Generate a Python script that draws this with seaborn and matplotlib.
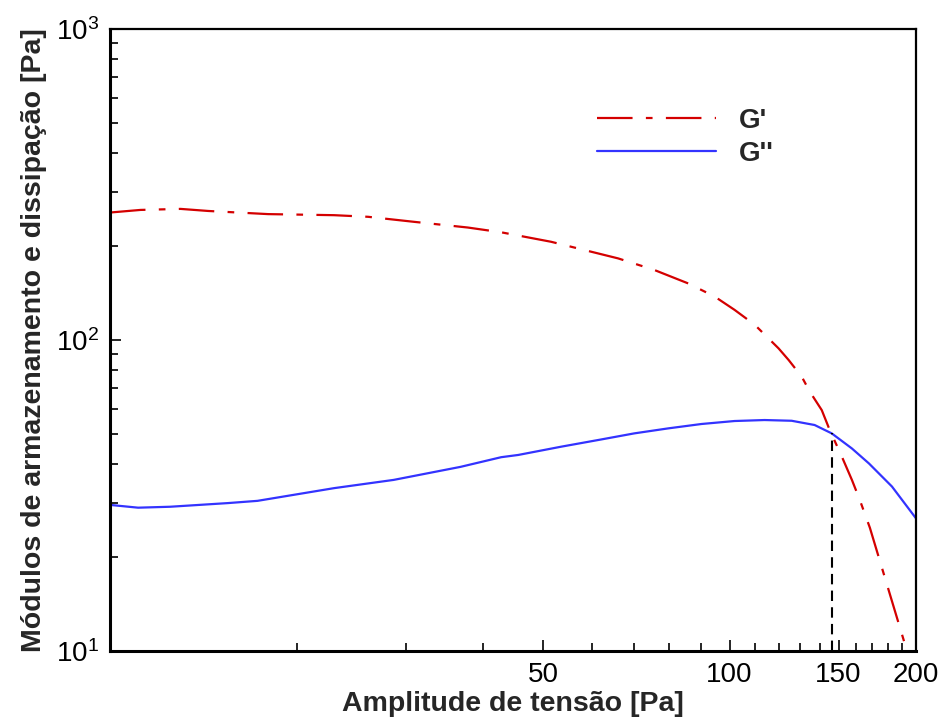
import matplotlib
matplotlib.use('Agg')
import matplotlib.pyplot as plt
import matplotlib.ticker as mticker
import pandas as pd
import seaborn as sns

# G' (storage modulus)
stress_gp = [10.0, 11.2, 13.0, 14.4, 18.0, 23.0, 26.1, 30.9, 37.8, 42.8, 51.5, 66.1,
             75.6, 85.8, 94.6, 101.9, 109.8, 120.0, 124.6, 130.8, 134.8, 140.9, 145.1,
             151.8, 157.6, 162.3, 168.5, 193.4]
g_prime = [257, 262, 264, 260, 254, 252, 249, 240, 230, 222, 207, 183,
           168, 152, 138, 125, 112, 94, 86.2, 76.2, 68.2, 59.5, 51.4,
           42.2, 35.5, 30.6, 24.9, 10.0]

# G'' (loss modulus)
stress_gpp = [10.0, 11.1, 12.5, 15.5, 17.3, 23.0, 28.7, 36.8, 42.8, 45.6, 53.5, 62.1,
              70.2, 79.7, 90.1, 101.9, 113.9, 126.0, 137.2, 146.2, 157.6, 167.9,
              182.9, 200.0]
g_dprime = [29.5, 28.9, 29.1, 29.9, 30.4, 33.4, 35.5, 39.1, 42.0, 42.7, 45.4, 47.9,
            50.1, 52.0, 53.7, 54.9, 55.3, 55.0, 53.3, 50.1, 44.8, 40.1,
            33.8, 26.7]

crossover_x = 146.2
crossover_y = 50.1

x_major = [50, 100, 150, 200]
x_minor = [20, 30, 40, 60, 70, 80, 90, 110, 120, 130, 140, 160, 170, 180, 190]
y_major = [10, 100, 1000]
y_labels = ['$\\mathregular{10^1}$', '$\\mathregular{10^2}$', '$\\mathregular{10^3}$']

sns.set_style('white')
plt.rcParams['font.family'] = ['Liberation Sans', 'DejaVu Sans']
plt.rcParams['mathtext.fontset'] = 'custom'
plt.rcParams['mathtext.rm'] = 'Liberation Sans'

df_gp = pd.DataFrame({'x': stress_gp, 'y': g_prime})
df_gpp = pd.DataFrame({'x': stress_gpp, 'y': g_dprime})

fig = plt.figure(figsize=(9.42, 7.2), dpi=100)
ax = fig.add_axes([0.1168, 0.0958, 0.8556, 0.8639])

sns.lineplot(data=df_gp, x='x', y='y', ax=ax, color='#d40000', lw=1.6,
             linestyle=(0, (16, 6, 3, 6)), label="G'")
sns.lineplot(data=df_gpp, x='x', y='y', ax=ax, color='#3333ff', lw=1.6, label="G''")
ax.plot([crossover_x, crossover_x], [10, crossover_y], color='black', lw=1.5,
        linestyle=(0, (5, 3)))

ax.set_xscale('log')
ax.set_yscale('log')
ax.set_xlim(10, 200)
ax.set_ylim(10, 1000)

ax.xaxis.set_major_locator(mticker.FixedLocator(x_major))
ax.xaxis.set_major_formatter(mticker.FixedFormatter([str(v) for v in x_major]))
ax.xaxis.set_minor_locator(mticker.FixedLocator(x_minor))
ax.xaxis.set_minor_formatter(mticker.NullFormatter())
ax.yaxis.set_major_locator(mticker.FixedLocator(y_major))
ax.yaxis.set_major_formatter(mticker.FixedFormatter(y_labels))
ax.yaxis.set_minor_locator(mticker.LogLocator(base=10, subs=range(2, 10)))
ax.yaxis.set_minor_formatter(mticker.NullFormatter())

ax.tick_params(which='both', direction='in', bottom=True, left=True, top=False, right=False,
               labelsize=20, width=1.2, colors='black')
ax.tick_params(which='major', length=8, pad=8)
ax.tick_params(which='minor', length=6)

for side in ['left', 'bottom']:
    ax.spines[side].set_linewidth(2.2)
for side in ['top', 'right']:
    ax.spines[side].set_linewidth(1.6)
for s in ax.spines.values():
    s.set_color('black')

ax.set_xlabel('Amplitude de tensão [Pa]', fontsize=20.5, fontweight='bold', labelpad=2)
ax.set_ylabel('Módulos de armazenamento e dissipação [Pa]', fontsize=20.5,
              fontweight='bold', labelpad=6)

leg = ax.legend(loc='upper left', bbox_to_anchor=(0.604, 0.873), frameon=False,
                fontsize=20, handlelength=4.3, handletextpad=0.8, labelspacing=0.25,
                borderpad=0, borderaxespad=0)
for t in leg.get_texts():
    t.set_fontweight('bold')

fig.savefig('out.png', dpi=100)
